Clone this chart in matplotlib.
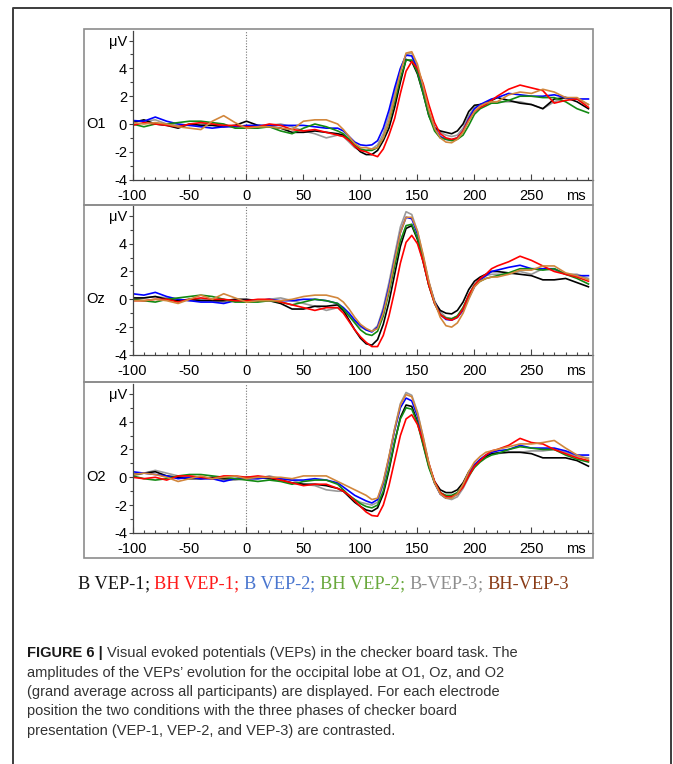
import matplotlib
matplotlib.use("Agg")
import matplotlib.pyplot as plt
from matplotlib.patches import Rectangle
from matplotlib.lines import Line2D
from matplotlib.ticker import MultipleLocator

plt.rcParams['font.family'] = ['Liberation Sans', 'DejaVu Sans']
plt.rcParams['axes.unicode_minus'] = False

# time axis (ms): 10 ms steps in the baseline, 5 ms over the VEP complex, 10 ms late
times = [-100, -90, -80, -70, -60, -50, -40, -30, -20, -10, 0, 10, 20, 30, 40, 50, 60, 70, 80,
         85, 90, 95, 100, 105, 110, 115, 120, 125, 130, 135, 140, 145, 150, 155, 160, 165, 170,
         175, 180, 185, 190, 195, 200, 205, 210, 215, 220,
         230, 240, 250, 260, 270, 280, 290, 300]

series_names = ["B VEP-1", "BH VEP-1", "B VEP-2", "BH VEP-2", "B-VEP-3", "BH-VEP-3"]
electrodes = ["O1", "Oz", "O2"]

# ---- O1 (µV) ----
o1_b1 = ([0.1, 0.3, 0.0, -0.1, -0.3, 0.0, -0.1, -0.1, -0.2, -0.1, 0.2, -0.1, -0.2, -0.3, -0.6, -0.6, -0.5, -0.6, -0.7]
         + [-0.8, -1.1, -1.6, -2.0, -2.2, -2.2, -1.9, -1.2, -0.3, 1.2, 3.0, 4.65, 4.5, 3.6, 2.2, 0.6, -0.3, -0.5, -0.6, -0.7, -0.5, 0.0, 0.9, 1.35, 1.4, 1.5, 1.7, 1.9]
         + [1.7, 1.5, 1.4, 1.1, 1.8, 1.9, 1.6, 1.1])
o1_bh1 = ([-0.1, 0.1, 0.0, -0.1, -0.2, 0.0, 0.1, 0.0, -0.1, -0.1, -0.2, -0.2, 0.0, -0.1, -0.4, -0.5, -0.4, -0.6, -0.8]
          + [-0.9, -1.2, -1.6, -1.9, -2.0, -2.2, -2.35, -1.8, -0.8, 0.4, 2.2, 3.8, 4.5, 4.0, 2.9, 1.4, 0.1, -0.7, -1.0, -1.1, -1.0, -0.5, 0.3, 0.9, 1.2, 1.4, 1.7, 2.0]
          + [2.5, 2.8, 2.6, 2.4, 1.5, 1.7, 1.8, 1.2])
o1_b2 = ([0.25, 0.2, 0.5, 0.2, 0.0, -0.1, -0.2, -0.3, -0.2, -0.2, -0.1, -0.1, -0.1, -0.1, -0.1, -0.1, -0.2, -0.3, -0.3]
         + [-0.5, -0.9, -1.3, -1.5, -1.55, -1.5, -1.2, -0.3, 1.0, 2.6, 4.0, 4.95, 4.9, 3.9, 2.4, 0.8, -0.3, -0.9, -1.1, -1.15, -1.0, -0.5, 0.4, 1.1, 1.4, 1.6, 1.8, 1.9]
         + [2.2, 2.1, 2.0, 2.0, 2.1, 1.9, 1.8, 1.8])
o1_bh2 = ([0.0, -0.2, 0.0, 0.0, 0.1, 0.2, 0.2, 0.1, 0.0, -0.3, -0.3, -0.3, -0.2, -0.5, -0.7, -0.3, 0.0, -0.2, -0.5]
          + [-0.7, -1.1, -1.5, -1.8, -1.9, -1.9, -1.7, -1.0, 0.1, 1.6, 3.3, 4.6, 4.6, 3.7, 2.2, 0.6, -0.5, -1.0, -1.1, -1.2, -1.1, -0.8, -0.1, 0.7, 1.1, 1.3, 1.5, 1.5]
          + [1.7, 2.0, 2.0, 1.9, 1.9, 1.6, 1.1, 0.8])
o1_b3 = ([0.2, 0.2, 0.3, 0.0, -0.1, -0.1, 0.0, 0.0, -0.1, -0.2, -0.2, -0.1, -0.1, 0.0, -0.2, -0.5, -0.7, -1.0, -0.8]
         + [-0.9, -1.3, -1.7, -1.9, -1.9, -1.8, -1.5, -0.7, 0.6, 2.2, 3.9, 5.0, 5.1, 4.1, 2.5, 0.9, -0.2, -0.6, -0.8, -0.9, -0.8, -0.3, 0.6, 1.2, 1.4, 1.5, 1.6, 1.6]
         + [1.6, 1.6, 1.4, 1.1, 1.6, 1.9, 1.8, 1.4])
o1_bh3 = ([0.1, 0.0, 0.1, 0.0, -0.2, -0.3, -0.4, 0.2, 0.6, 0.1, -0.3, -0.2, -0.2, -0.3, -0.4, 0.2, 0.3, 0.3, 0.0]
          + [-0.4, -0.9, -1.4, -1.7, -1.7, -1.8, -1.7, -1.0, 0.2, 1.9, 3.7, 5.1, 5.2, 4.3, 2.7, 1.0, -0.3, -1.0, -1.3, -1.35, -1.1, -0.6, 0.2, 0.9, 1.3, 1.5, 1.6, 1.6]
          + [2.1, 2.3, 2.2, 2.5, 2.3, 1.9, 1.9, 1.4])

# ---- Oz ----
oz_b1 = ([0.1, 0.1, 0.2, 0.0, -0.1, 0.0, -0.1, -0.1, -0.1, 0.0, 0.0, -0.1, -0.1, -0.3, -0.7, -0.7, -0.5, -0.5, -0.4]
         + [-0.8, -1.5, -2.2, -2.8, -3.2, -3.3, -2.9, -1.8, -0.2, 1.8, 3.8, 5.1, 5.3, 4.3, 2.7, 1.0, -0.2, -0.8, -1.0, -1.05, -0.8, -0.2, 0.7, 1.3, 1.6, 1.8, 2.0, 2.0]
         + [1.9, 1.8, 1.7, 1.4, 1.4, 1.5, 1.2, 0.9])
oz_bh1 = ([-0.1, -0.1, 0.0, 0.0, -0.2, 0.0, 0.1, 0.0, 0.0, -0.1, -0.1, 0.0, 0.0, -0.2, -0.4, -0.6, -0.8, -0.6, -0.6]
          + [-1.0, -1.6, -2.2, -2.7, -3.1, -3.4, -3.4, -2.6, -1.2, 0.6, 2.6, 4.1, 4.6, 4.0, 2.7, 1.0, -0.3, -1.1, -1.4, -1.5, -1.3, -0.7, 0.3, 1.0, 1.5, 1.8, 2.2, 2.4]
          + [2.7, 3.1, 2.8, 2.4, 2.0, 1.8, 1.6, 1.3])
oz_b2 = ([0.4, 0.3, 0.5, 0.2, 0.0, -0.1, -0.2, -0.2, -0.3, -0.1, -0.1, -0.1, 0.0, -0.1, -0.1, 0.0, 0.0, -0.1, -0.3]
         + [-0.6, -1.0, -1.5, -1.9, -2.2, -2.35, -2.0, -0.8, 0.9, 2.9, 4.8, 5.9, 5.8, 4.7, 3.0, 1.2, -0.2, -1.1, -1.45, -1.5, -1.3, -0.8, 0.1, 0.9, 1.4, 1.7, 2.0, 2.1]
         + [2.3, 2.45, 2.2, 2.2, 2.2, 1.8, 1.7, 1.7])
oz_bh2 = ([0.0, -0.1, -0.2, 0.0, 0.1, 0.2, 0.3, 0.2, 0.0, -0.2, -0.2, -0.2, -0.1, -0.2, -0.4, -0.2, 0.0, -0.1, -0.3]
          + [-0.7, -1.2, -1.7, -2.2, -2.5, -2.6, -2.3, -1.2, 0.5, 2.4, 4.2, 5.3, 5.4, 4.4, 2.8, 1.0, -0.3, -1.1, -1.35, -1.4, -1.2, -0.6, 0.3, 1.0, 1.3, 1.5, 1.6, 1.7]
          + [1.9, 2.2, 2.2, 2.1, 2.2, 1.8, 1.5, 1.1])
oz_b3 = ([0.0, 0.1, 0.2, 0.1, 0.0, -0.1, 0.0, -0.1, -0.2, -0.1, -0.2, -0.1, 0.0, 0.1, -0.1, -0.3, -0.5, -0.8, -0.6]
         + [-0.8, -1.2, -1.6, -2.0, -2.2, -2.3, -1.9, -0.6, 1.2, 3.2, 5.2, 6.3, 6.1, 4.9, 3.1, 1.2, -0.1, -0.9, -1.3, -1.4, -1.2, -0.6, 0.3, 1.1, 1.5, 1.7, 1.8, 1.8]
         + [1.8, 2.0, 1.8, 2.2, 2.1, 1.8, 1.8, 1.5])
oz_bh3 = ([-0.1, -0.1, 0.0, -0.1, -0.3, 0.0, 0.3, 0.0, 0.4, 0.1, -0.2, -0.1, -0.1, -0.1, 0.0, 0.2, 0.3, 0.3, 0.1]
          + [-0.2, -0.7, -1.3, -1.8, -2.1, -2.3, -2.1, -1.0, 0.7, 2.8, 4.8, 5.9, 5.9, 4.9, 3.2, 1.3, -0.2, -1.3, -1.9, -2.0, -1.7, -1.0, 0.0, 0.9, 1.3, 1.5, 1.6, 1.6]
          + [1.8, 2.1, 2.1, 2.4, 2.4, 1.9, 1.7, 1.4])

# ---- O2 ----
o2_b1 = ([0.2, 0.3, 0.4, 0.1, 0.0, -0.1, -0.1, 0.0, -0.1, -0.1, 0.0, 0.0, -0.1, -0.2, -0.4, -0.5, -0.5, -0.6, -0.8]
         + [-1.0, -1.4, -1.8, -2.1, -2.35, -2.45, -2.2, -1.2, 0.5, 2.5, 4.3, 5.2, 5.1, 4.0, 2.4, 0.8, -0.3, -0.9, -1.1, -1.1, -0.9, -0.4, 0.4, 0.9, 1.2, 1.5, 1.7, 1.75]
         + [1.8, 1.8, 1.7, 1.4, 1.4, 1.4, 1.2, 0.8])
o2_bh1 = ([0.0, -0.1, 0.0, -0.2, 0.1, 0.1, 0.0, -0.1, 0.1, 0.1, 0.0, 0.1, 0.0, -0.2, -0.4, -0.6, -0.5, -0.5, -0.8]
          + [-1.0, -1.3, -1.7, -2.1, -2.5, -2.75, -2.8, -2.0, -0.6, 1.2, 3.0, 4.2, 4.5, 3.8, 2.6, 1.0, -0.3, -1.1, -1.4, -1.4, -1.2, -0.7, 0.1, 0.8, 1.2, 1.6, 1.9, 2.0]
          + [2.3, 2.8, 2.5, 2.4, 2.0, 1.7, 1.4, 1.2])
o2_b2 = ([0.4, 0.3, 0.2, 0.1, -0.1, 0.0, -0.1, -0.1, -0.3, -0.1, -0.1, -0.1, 0.0, -0.1, -0.2, -0.2, -0.1, -0.2, -0.4]
         + [-0.7, -1.0, -1.3, -1.5, -1.7, -1.85, -1.6, -0.4, 1.4, 3.4, 5.0, 5.7, 5.5, 4.4, 2.7, 0.9, -0.4, -1.2, -1.5, -1.45, -1.2, -0.6, 0.2, 0.9, 1.3, 1.6, 1.8, 1.9]
         + [2.0, 2.3, 2.1, 2.1, 2.1, 1.9, 1.6, 1.6])
o2_bh2 = ([0.1, -0.1, -0.2, -0.1, 0.1, 0.2, 0.2, 0.1, 0.0, -0.1, -0.2, -0.3, -0.2, -0.3, -0.5, -0.3, -0.2, -0.2, -0.5]
          + [-0.9, -1.3, -1.6, -1.9, -2.1, -2.2, -2.0, -1.0, 0.7, 2.6, 4.2, 5.0, 4.9, 3.9, 2.3, 0.7, -0.4, -1.1, -1.3, -1.3, -1.1, -0.6, 0.1, 0.7, 1.1, 1.4, 1.6, 1.7]
          + [2.0, 2.2, 2.1, 2.0, 2.0, 1.6, 1.3, 1.1])
o2_b3 = ([0.1, 0.3, 0.5, 0.3, 0.1, 0.0, -0.1, -0.1, -0.2, -0.2, -0.1, -0.1, 0.1, -0.1, -0.2, -0.5, -0.6, -0.9, -1.0]
         + [-1.0, -1.3, -1.6, -1.8, -1.9, -2.0, -1.8, -0.5, 1.4, 3.5, 5.3, 6.1, 5.9, 4.7, 2.9, 1.0, -0.4, -1.2, -1.5, -1.6, -1.4, -0.8, 0.0, 0.8, 1.2, 1.5, 1.7, 1.7]
         + [1.8, 1.8, 1.9, 1.9, 2.0, 1.8, 1.5, 1.4])
o2_bh3 = ([0.2, 0.3, 0.2, 0.0, -0.3, -0.1, 0.1, -0.1, 0.0, 0.1, -0.1, 0.0, 0.0, 0.0, -0.1, 0.1, 0.1, 0.1, -0.3]
          + [-0.5, -0.7, -0.9, -1.1, -1.3, -1.6, -1.5, -0.3, 1.5, 3.5, 5.2, 5.95, 5.8, 4.6, 2.9, 1.0, -0.4, -1.2, -1.5, -1.5, -1.2, -0.5, 0.4, 1.1, 1.5, 1.8, 1.9, 2.0]
          + [2.2, 2.4, 2.4, 2.5, 2.65, 2.1, 1.6, 1.3])

panel_data = {
    "O1": [o1_b1, o1_bh1, o1_b2, o1_bh2, o1_b3, o1_bh3],
    "Oz": [oz_b1, oz_bh1, oz_b2, oz_bh2, oz_b3, oz_bh3],
    "O2": [o2_b1, o2_bh1, o2_b2, o2_bh2, o2_b3, o2_bh3],
}

line_colors = ["#000000", "#ff0000", "#0000ff", "#138a13", "#9a9a9a", "#d2873c"]
legend_colors = ["#151515", "#ff1a1a", "#4a76cf", "#69a83c", "#8e8e8e", "#8a3c17"]
draw_order = [4, 0, 2, 3, 1, 5]

W, H = 673, 764
fig = plt.figure(figsize=(W / 100, H / 100), dpi=100)


def fx(px):
    return px / W


def fy(py):
    return 1 - py / H


# outer frame (open at the bottom)
fig.add_artist(Line2D([fx(13), fx(13), fx(671), fx(671)], [0, fy(8), fy(8), 0],
                      color="#3c3c3c", lw=1.4, transform=fig.transFigure))

box_top = [29, 205, 382]
box_bot = [205, 382, 558]
zero_px = [124, 299.3, 477.3]
unit_px = 13.9
ax_left, ax_right = 132.5, 593
ymin, ymax = -4, 6.7

for i, name in enumerate(electrodes):
    fig.add_artist(Rectangle((fx(84), fy(box_bot[i])), fx(593) - fx(84), fy(box_top[i]) - fy(box_bot[i]),
                             fill=False, edgecolor="#8c8c8c", lw=1.2, transform=fig.transFigure))
    top = zero_px[i] - ymax * unit_px
    bot = zero_px[i] - ymin * unit_px
    ax = fig.add_axes([fx(ax_left), fy(bot), fx(ax_right) - fx(ax_left), fy(top) - fy(bot)])
    ax.set_xlim(-100, 304)
    ax.set_ylim(ymin, ymax)
    ax.axvline(0, color="#777777", ls=(0, (1, 1.5)), lw=0.8, zorder=1)
    curves = panel_data[name]
    for k in draw_order:
        ax.plot(times, curves[k], color=line_colors[k], lw=1.2, zorder=2)

    for s in ["top", "right"]:
        ax.spines[s].set_visible(False)
    for s in ["left", "bottom"]:
        ax.spines[s].set_color("#444444")
        ax.spines[s].set_linewidth(0.9)

    ax.set_xticks([-100, -50, 0, 50, 100, 150, 200, 250])
    ax.xaxis.set_minor_locator(MultipleLocator(10))
    ax.set_yticks([-4, -2, 0, 2, 4, 6])
    ax.set_yticklabels(["-4", "-2", "0", "2", "4", "μV"])
    ax.yaxis.set_minor_locator(MultipleLocator(1))
    ax.tick_params(axis="x", which="major", direction="in", length=4, width=0.8,
                   color="#444444", labelsize=10.5, pad=6.5)
    ax.tick_params(axis="x", which="minor", direction="in", length=2, width=0.8, color="#444444")
    ax.tick_params(axis="y", which="major", direction="out", length=3, width=0.8,
                   color="#444444", labelsize=10.5, pad=1)
    ax.tick_params(axis="y", which="minor", direction="out", length=2, width=0.8, color="#444444")

    fig.text(fx(86), fy(zero_px[i]), name, fontsize=10.5, ha="left", va="center")
    fig.text(fx(586), fy(bot + 16), "ms", fontsize=10.5, ha="right", va="center")

renderer = fig.canvas.get_renderer()


def place_row(pieces, x0, y0, size, family):
    arts = []
    x = x0
    for txt, color, weight, gap in pieces:
        x += gap * size * 100 / 72
        t = fig.text(fx(x), fy(y0), txt, color=color, fontsize=size, family=family,
                     weight=weight, ha="left", va="baseline")
        x = t.get_window_extent(renderer).x1
        arts.append(t)
    return arts, x


def fit_row(pieces, x0, y0, size, family, width):
    arts, x_end = place_row(pieces, x0, y0, size, family)
    for a in arts:
        a.remove()
    new_size = size * width / (x_end - x0)
    place_row(pieces, x0, y0, new_size, family)
    return new_size


# colour-coded legend line
legend_pieces = []
for j, nm in enumerate(series_names):
    legend_pieces.append((nm, legend_colors[j], "normal", 0 if j == 0 else 0.25))
    if j < len(series_names) - 1:
        legend_pieces.append((";", legend_colors[j], "normal", 0))
fit_row(legend_pieces, 78, 589, 13, ["Liberation Serif", "DejaVu Serif"], 490)

# caption
cap_family = ["Liberation Sans Narrow", "Liberation Sans", "DejaVu Sans"]
cap_lines = [
    "amplitudes of the VEPs’ evolution for the occipital lobe at O1, Oz, and O2",
    "(grand average across all participants) are displayed. For each electrode",
    "position the two conditions with the three phases of checker board",
    "presentation (VEP-1, VEP-2, and VEP-3) are contrasted.",
]
first = [("FIGURE 6 |", "#1a1a1a", "bold", 0),
         ("Visual evoked potentials (VEPs) in the checker board task. The", "#333333", "normal", 0.28)]
cap_size = fit_row(first, 27, 657, 10.5, cap_family, 490)
for n, line in enumerate(cap_lines):
    place_row([(line, "#333333", "normal", 0)], 27, 657 + 19.5 * (n + 1), cap_size, cap_family)

fig.savefig("out.png", dpi=100)
